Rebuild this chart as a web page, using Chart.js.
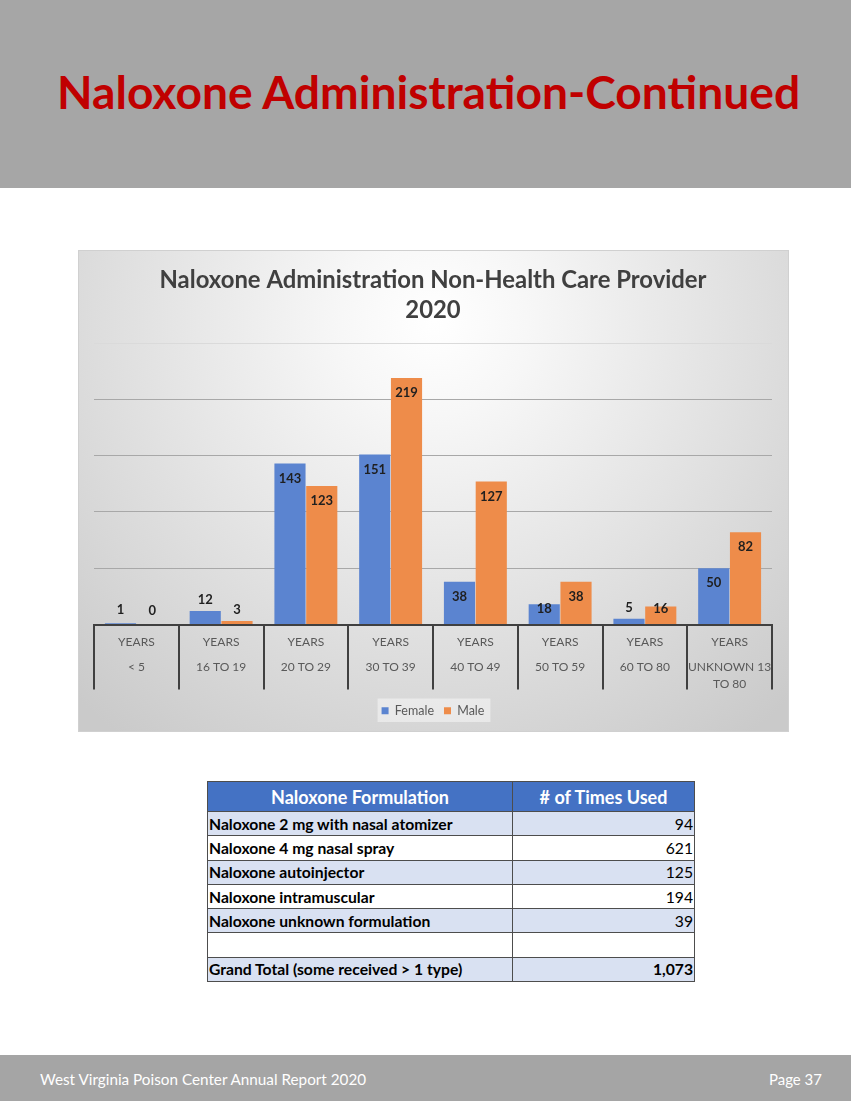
<!DOCTYPE html>
<html>
<head>
<meta charset="utf-8">
<script src="https://cdn.jsdelivr.net/npm/chart.js@4"></script>
<style>
html,body{margin:0;padding:0;background:#ffffff;}
body{width:851px;height:1101px;position:relative;overflow:hidden;font-family:Lato,"Noto Sans",sans-serif;}
#header{position:absolute;left:0;top:0;width:851px;height:188px;background:#a6a6a6;}
#footer{position:absolute;left:0;top:1055px;width:851px;height:46px;background:#a5a5a5;}
.txt{position:absolute;white-space:nowrap;margin:0;padding:0;}
#pageTitle{color:#c00000;font-weight:bold;}
.foot{color:#ffffff;font-weight:normal;}
#chartBox{position:absolute;left:78px;top:250px;width:711px;height:482px;box-sizing:border-box;border:1px solid #d0d0d0;}
#chartBox canvas{display:block;}
#tableWrap{position:absolute;left:207px;top:781px;}
table{border-collapse:collapse;table-layout:fixed;}
td,th{border:1px solid #4d4d4d;padding:0;overflow:hidden;white-space:nowrap;box-sizing:border-box;}
th{background:#4472c4;color:#ffffff;font-weight:bold;height:30px;text-align:center;}
td{height:24.3px;color:#000000;font-weight:bold;}
td.lbl{text-align:left;padding-left:1px;}
td.num{text-align:right;padding-right:1px;font-weight:normal;}
td.num.total{font-weight:bold;}
tr.alt td{background:#d9e1f2;}
tr.plain td{background:#ffffff;}
</style>
</head>
<body>
<div id="header"></div>
<div id="pageTitle" class="txt">Naloxone Administration-Continued</div>

<div id="chartBox"><canvas id="chart"></canvas></div>

<div id="tableWrap"></div>

<div id="footer"></div>
<div id="footLeft" class="txt foot">West Virginia Poison Center Annual Report 2020</div>
<div id="footRight" class="txt foot">Page 37</div>

<script>
// ---------------- DATA ----------------
const chartTitle = ["Naloxone Administration Non-Health Care Provider", "2020"];
const categories = [
  ["YEARS", "", "", "< 5"],
  ["YEARS", "", "", "16 TO 19"],
  ["YEARS", "", "", "20 TO 29"],
  ["YEARS", "", "", "30 TO 39"],
  ["YEARS", "", "", "40 TO 49"],
  ["YEARS", "", "", "50 TO 59"],
  ["YEARS", "", "", "60 TO 80"],
  ["YEARS", "", "", "UNKNOWN 13", "", "TO 80"]
];
const seriesNames = ["Female", "Male"];
const femaleValues = [1, 12, 143, 151, 38, 18, 5, 50];
const maleValues = [0, 3, 123, 219, 127, 38, 16, 82];
const yTickValues = [0, 50, 100, 150, 200, 250];

const tableHeaders = ["Naloxone Formulation", "# of Times Used"];
const formulations = [
  "Naloxone 2 mg with nasal atomizer",
  "Naloxone 4 mg nasal spray",
  "Naloxone autoinjector",
  "Naloxone intramuscular",
  "Naloxone unknown formulation",
  "",
  "Grand Total (some received > 1 type)"
];
const timesUsed = ["94", "621", "125", "194", "39", "", "1,073"];

// ---------------- HELPERS ----------------
const FAMILY = 'Lato, "Noto Sans", sans-serif';
const mctx = document.createElement('canvas').getContext('2d');
function measure(text, weight, size) {
  mctx.font = weight + ' ' + size + 'px ' + FAMILY;
  return mctx.measureText(text).width;
}
function fitSize(text, weight, targetW) {
  return 100 * targetW / measure(text, weight, 100);
}
function placeText(id, weight, targetW, capCenterY, leftX) {
  const el = document.getElementById(id);
  const size = fitSize(el.textContent, weight, targetW);
  el.style.fontSize = size + 'px';
  el.style.lineHeight = size + 'px';
  el.style.top = (capCenterY - 0.529 * size) + 'px';
  el.style.left = leftX + 'px';
}
placeText('pageTitle', 'bold', 745, 92.5, 57);
placeText('footLeft', 'normal', 328, 1080, 40);
placeText('footRight', 'normal', 53, 1080, 769);

// ---------------- TABLE ----------------
(function buildTable() {
  const bodySize = fitSize(formulations[0], 'bold', 244);
  const headSize = fitSize(tableHeaders[0], 'bold', 178);
  let html = '<table style="width:487px;font-family:' + FAMILY.replace(/"/g, "'") + ';">';
  html += '<colgroup><col style="width:305px"><col style="width:182px"></colgroup>';
  html += '<tr>' + tableHeaders.map(h => '<th style="font-size:' + headSize + 'px">' + h + '</th>').join('') + '</tr>';
  formulations.forEach((f, i) => {
    const cls = (i % 2 === 0) ? 'alt' : 'plain';
    const isTotal = i === formulations.length - 1;
    html += '<tr class="' + cls + '">' +
      '<td class="lbl" style="font-size:' + bodySize + 'px">' + (f ? f.replace(/</g, '&lt;').replace(/>/g, '&gt;') : '&nbsp;') + '</td>' +
      '<td class="num' + (isTotal ? ' total' : '') + '" style="font-size:' + bodySize + 'px">' + (timesUsed[i] || '&nbsp;') + '</td></tr>';
  });
  html += '</table>';
  document.getElementById('tableWrap').innerHTML = html;
})();

// ---------------- CHART ----------------
const titleSize = fitSize(chartTitle[0], 'bold', 547);

const backgroundPlugin = {
  id: 'bgPlugin',
  beforeDraw(chart) {
    const c = chart.ctx;
    const w = chart.width, h = chart.height;
    c.save();
    const g = c.createRadialGradient(355, 70, 0, 355, 70, 520);
    g.addColorStop(0, '#ffffff');
    g.addColorStop(0.18, '#f7f7f7');
    g.addColorStop(0.6, '#e0e0e0');
    g.addColorStop(1, '#cacaca');
    c.fillStyle = g;
    c.fillRect(0, 0, w, h);
    const lg = chart.legend;
    if (lg && lg.legendHitBoxes && lg.legendHitBoxes.length) {
      let l = Infinity, r = -Infinity, t = Infinity, b = -Infinity;
      lg.legendHitBoxes.forEach(hb => {
        l = Math.min(l, hb.left); r = Math.max(r, hb.left + hb.width);
        t = Math.min(t, hb.top); b = Math.max(b, hb.top + hb.height);
      });
      c.fillStyle = 'rgba(255,255,255,0.45)';
      c.fillRect(l - 4, t - 6, (r - l) + 10, (b - t) + 11);
    }
    c.restore();
  }
};

const valueLabelPlugin = {
  id: 'valueLabels',
  afterDatasetsDraw(chart) {
    const c = chart.ctx;
    c.save();
    c.font = 'bold 13px ' + FAMILY;
    c.fillStyle = '#1f1f1f';
    c.textAlign = 'center';
    c.textBaseline = 'middle';
    chart.data.datasets.forEach((ds, di) => {
      const meta = chart.getDatasetMeta(di);
      meta.data.forEach((el, i) => {
        const top = el.y, base = el.base;
        const hgt = base - top;
        let y;
        if (hgt < 15) y = Math.min(top - 11, base - 14);
        else y = Math.min(top + 15, base - 15);
        c.fillText(String(ds.data[i]), el.x, y);
      });
    });
    c.restore();
  }
};

new Chart(document.getElementById('chart'), {
  type: 'bar',
  data: {
    labels: categories,
    datasets: [
      { label: seriesNames[0], data: femaleValues, backgroundColor: '#5b84d0', borderWidth: 0,
        categoryPercentage: 0.75, barPercentage: 0.98 },
      { label: seriesNames[1], data: maleValues, backgroundColor: '#ee8c4a', borderWidth: 0,
        categoryPercentage: 0.75, barPercentage: 0.98 }
    ]
  },
  options: {
    responsive: true,
    maintainAspectRatio: false,
    animation: false,
    events: [],
    layout: { padding: { left: 15, right: 16, top: 0, bottom: 4 } },
    plugins: {
      title: {
        display: true,
        text: chartTitle,
        color: '#404040',
        font: { family: FAMILY, weight: 'bold', size: titleSize, lineHeight: 30 / titleSize },
        padding: { top: 14, bottom: 18 }
      },
      legend: {
        position: 'bottom',
        labels: {
          boxWidth: 7, boxHeight: 7, padding: 10,
          color: '#595959',
          font: { family: FAMILY, size: 12.5 }
        }
      },
      tooltip: { enabled: false }
    },
    scales: {
      x: {
        offset: true,
        grid: {
          offset: true, drawOnChartArea: false, drawTicks: true,
          tickLength: 65, color: '#404040', lineWidth: 2
        },
        border: { display: true, color: '#404040', width: 2 },
        ticks: {
          color: '#595959',
          font: { family: FAMILY, size: 12, lineHeight: 8.33 / 12 },
          padding: -51.5,
          maxRotation: 0, minRotation: 0, autoSkip: false
        },
        afterFit(scale) { scale.height = 70; }
      },
      y: {
        min: yTickValues[0],
        max: yTickValues[yTickValues.length - 1],
        afterBuildTicks(scale) { scale.ticks = yTickValues.map(v => ({ value: v })); },
        ticks: { display: false },
        border: { display: false },
        grid: {
          drawTicks: false,
          lineWidth: 1,
          color: ctx => (ctx.tick && ctx.tick.value === 250) ? '#dadada' : '#a8a8a8'
        }
      }
    }
  },
  plugins: [backgroundPlugin, valueLabelPlugin]
});
</script>
</body>
</html>
